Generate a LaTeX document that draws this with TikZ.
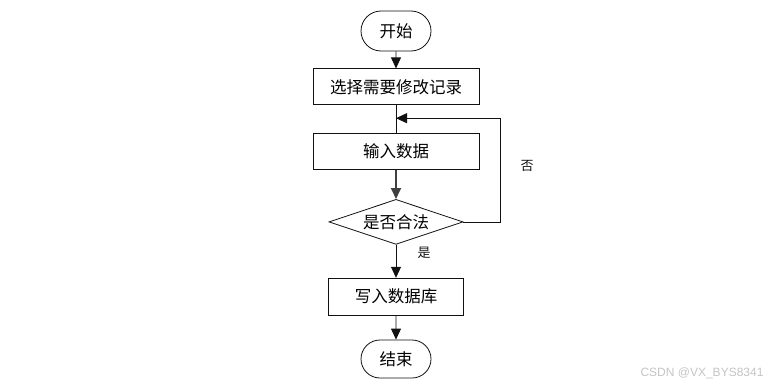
\documentclass[tikz,border=0pt]{standalone}
\usepackage{fontspec}
\usepackage{tikz}
\usetikzlibrary{shapes.geometric, shapes.misc, arrows.meta, positioning}
\newfontfamily\cjk{Noto Sans CJK SC}
\newfontfamily\wmfont{Liberation Sans}
\definecolor{ink}{HTML}{111111}
\definecolor{edge}{HTML}{404040}
\definecolor{wmark}{HTML}{C4C4C4}
\tikzset{
  term/.style  ={rounded rectangle, draw=ink, line width=0.8pt,
                 minimum width=74pt, minimum height=40pt, inner sep=2pt,
                 font=\cjk\fontsize{16.5pt}{19pt}\selectfont},
  proc/.style  ={rectangle, draw=ink, line width=0.8pt,
                 minimum width=166pt, minimum height=36pt, inner sep=2pt,
                 font=\cjk\fontsize{16.5pt}{19pt}\selectfont},
  dec/.style   ={diamond, draw=ink, line width=0.8pt, aspect=3,
                 minimum width=134pt, minimum height=45pt, inner sep=0pt,
                 font=\cjk\fontsize{16.5pt}{19pt}\selectfont},
  flow/.style  ={-{Triangle[length=11pt,width=10pt]}, line width=0.8pt, draw=ink},
  flowg/.style ={-{Triangle[length=11pt,width=10pt]}, line width=1.8pt, draw=edge},
  lbl/.style   ={font=\cjk\fontsize{13pt}{15pt}\selectfont, text=ink}
}
\begin{document}
\begin{tikzpicture}[x=1pt, y=1pt]
  \useasboundingbox (0,0) rectangle (779,-388);

  \node[term] (start) at (396,-31) {开始};
  \node[proc, below=17pt of start] (sel)  {选择需要修改记录};
  \node[proc, below=28pt of sel]   (inp)  {输入数据};
  \node[dec,  below=29pt of inp]   (chk)  {是否合法};
  \node[proc, below=33pt of chk, minimum width=135pt, minimum height=37pt] (save) {写入数据库};
  \node[term, below=24pt of save, minimum height=38pt] (stop) {结束};

  \coordinate[below=13pt of sel.south] (merge);

  \node[lbl] (no)  at (527,-166) {否};
  \node[lbl] (yes) at (424,-253) {是};

  \draw[flow]  (start) -- (sel);
  \draw[line width=0.8pt, draw=ink] (sel) -- (inp);
  \draw[flowg] (inp)   -- (chk);
  \draw[flow]  (chk.east) -- ++(37,0) |- (merge);
  \draw[flow]  (chk)   -- (save);
  \draw[flow]  (save)  -- (stop);

  \node[font=\wmfont\fontsize{12pt}{14pt}\selectfont, text=wmark, anchor=east] (wm) at (767,-373) {CSDN @VX\_BYS8341};
\end{tikzpicture}
\end{document}
